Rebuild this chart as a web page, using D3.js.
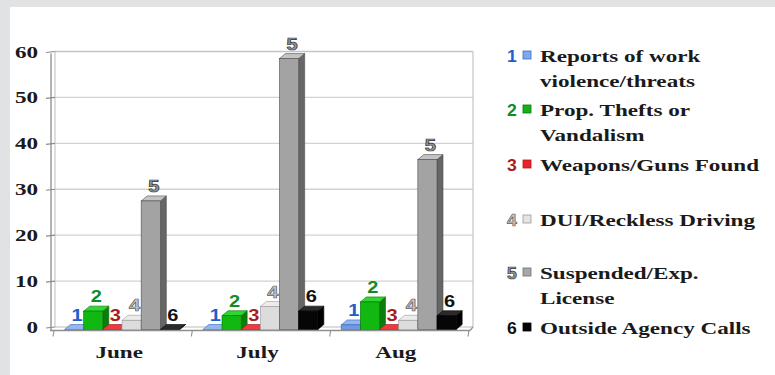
<!DOCTYPE html>
<html><head><meta charset="utf-8">
<script src="https://cdn.jsdelivr.net/npm/d3@7"></script>
<style>html,body{margin:0;padding:0;background:#fff;}svg{display:block;}</style>
</head><body>
<svg id="chart" width="775" height="375"></svg>
<script>
// ---- data ----
const months = ["June", "July", "Aug"];
const seriesKeys = ["1", "2", "3", "4", "5", "6"];
const seriesNames = [
  ["Reports of work", "violence/threats"],
  ["Prop. Thefts or", "Vandalism"],
  ["Weapons/Guns Found"],
  ["DUI/Reckless Driving"],
  ["Suspended/Exp.", "License"],
  ["Outside Agency Calls"]
];
const workViolence = [0, 0, 1];
const thefts = [4, 3, 6];
const weapons = [0, 0, 0];
const dui = [2, 5, 2];
const suspended = [28, 59, 37];
const outsideCalls = [0, 4, 3];
const yTicks = [0, 10, 20, 30, 40, 50, 60];

const seriesValues = [workViolence, thefts, weapons, dui, suspended, outsideCalls];

// ---- styles ----
const fills = [
  {front:"#6f9be6", top:"#93b6f0", side:"#3f6cc0", stroke:"#3a64b0", label:"#1b5fc9", lstroke:"none", sq:"#7ea7ec", sqs:"#3f6cc0"},
  {front:"#12b812", top:"#2fd82f", side:"#0a7d0a", stroke:"#0a6e0a", label:"#138a24", lstroke:"none", sq:"#17b017", sqs:"#0a7a0a"},
  {front:"#d81f27", top:"#ee3a40", side:"#a01010", stroke:"#9a1010", label:"#a81c1c", lstroke:"none", sq:"#e8232f", sqs:"#b01818"},
  {front:"#dcdcdc", top:"#ececec", side:"#b4b4b4", stroke:"#9a9a9a", label:"#c8c8c8", lstroke:"#666", sq:"#e4e4e4", sqs:"#9a9a9a"},
  {front:"#a3a3a3", top:"#c4c4c4", side:"#666666", stroke:"#4e4e4e", label:"#9a9a9a", lstroke:"#333", sq:"#a8a8a8", sqs:"#707070"},
  {front:"#060606", top:"#2a2a2a", side:"#000000", stroke:"#000", label:"#111111", lstroke:"none", sq:"#050505", sqs:"#000"}
];
const SX = 1.36;
const serif = "'Liberation Serif','Times New Roman',serif";
const sans = "'Liberation Sans',Arial,sans-serif";

const svg = d3.select("#chart");

// background frame (gray bands)
svg.append("rect").attr("x",0).attr("y",0).attr("width",775).attr("height",375).attr("fill","#fff");
svg.append("rect").attr("x",0).attr("y",0).attr("width",775).attr("height",7).attr("fill","#e1e2e4");
svg.append("rect").attr("x",0).attr("y",0).attr("width",10).attr("height",375).attr("fill","#e1e2e4");

// ---- scales ----
const y = d3.scaleLinear().domain([0, 60]).range([327, 51.5]);
const x0 = d3.scaleBand().domain(months).range([54, 469]).padding(0);
const x1 = d3.scaleBand().domain(seriesKeys).range([10.5, 125.5]).padding(0);

const wallL = 55, wallR = 473;
const DX = 6, DY = 5, FY = 2.5; // 3D depth offsets

// gridlines
const g = svg.append("g");
g.selectAll("line.grid").data(yTicks).join("line")
  .attr("x1", wallL).attr("x2", wallR)
  .attr("y1", d => y(d)).attr("y2", d => y(d))
  .attr("stroke", d => d === 60 ? "#c4c4c4" : "#d2d2d2").attr("stroke-width", 1.3);
// back wall right edge
g.append("line").attr("x1", wallR).attr("x2", wallR).attr("y1", y(60)).attr("y2", y(0))
  .attr("stroke", "#c8c8c8").attr("stroke-width", 1.3);
// back wall left edge
g.append("line").attr("x1", wallL).attr("x2", wallL).attr("y1", y(60)).attr("y2", y(0))
  .attr("stroke", "#c8c8c8").attr("stroke-width", 1.2);
// left axis
g.append("line").attr("x1", 51).attr("x2", 51).attr("y1", y(60) + 2).attr("y2", y(0) + FY + 1)
  .attr("stroke", "#8a8a8a").attr("stroke-width", 1.3);
g.selectAll("line.tick").data(yTicks).join("line")
  .attr("x1", 46).attr("x2", 55)
  .attr("y1", d => y(d) + 1).attr("y2", d => y(d))
  .attr("stroke", "#8a8a8a").attr("stroke-width", 1.2);
// floor
g.append("line").attr("x1", 50).attr("x2", 470).attr("y1", y(0) + FY + 1).attr("y2", y(0) + FY + 1)
  .attr("stroke", "#8f8f8f").attr("stroke-width", 1.4);
g.append("line").attr("x1", 470).attr("x2", wallR).attr("y1", y(0) + FY + 1).attr("y2", y(0))
  .attr("stroke", "#8f8f8f").attr("stroke-width", 1.2);
const sepX = months.map(m => x0(m)).concat([x0("Aug") + x0.bandwidth()]);
g.selectAll("line.sep").data(sepX).join("line")
  .attr("x1", d => d).attr("x2", d => d - 1)
  .attr("y1", y(0) + FY + 1).attr("y2", y(0) + FY + 7)
  .attr("stroke", "#8f8f8f").attr("stroke-width", 1.1);

// y tick labels
svg.selectAll("text.ytick").data(yTicks).join("text")
  .attr("transform", d => `translate(38,${y(d) + 6}) scale(${SX},1)`)
  .attr("text-anchor", "end")
  .attr("font-family", serif).attr("font-weight", "bold").attr("font-size", 17)
  .attr("fill", "#1a1a1a").text(d => d);

// x labels
svg.selectAll("text.xlab").data(months).join("text")
  .attr("transform", d => `translate(${x0(d) + x0.bandwidth() / 2 - 4},358) scale(${SX},1)`)
  .attr("text-anchor", "middle")
  .attr("font-family", serif).attr("font-weight", "bold").attr("font-size", 17)
  .attr("fill", "#1a1a1a").text(d => d);

// bars
const bw = x1.bandwidth();
months.forEach((m, mi) => {
  const gg = svg.append("g");
  seriesKeys.forEach((k, si) => {
    const v = seriesValues[si][mi];
    const c = fills[si];
    const xl = x0(m) + x1(k);
    const yb = y(0) + FY;
    const yt = y(v) + FY;
    // side face
    gg.append("path")
      .attr("d", `M${xl + bw},${yb} L${xl + bw + DX},${yb - DY} L${xl + bw + DX},${yt - DY} L${xl + bw},${yt} Z`)
      .attr("fill", c.side).attr("stroke", c.stroke).attr("stroke-width", 0.6);
    // top face
    gg.append("path")
      .attr("d", `M${xl},${yt} L${xl + DX},${yt - DY} L${xl + bw + DX},${yt - DY} L${xl + bw},${yt} Z`)
      .attr("fill", c.top).attr("stroke", c.stroke).attr("stroke-width", 0.6);
    // front face
    gg.append("rect")
      .attr("x", xl).attr("y", yt).attr("width", bw).attr("height", Math.max(0, yb - yt))
      .attr("fill", c.front).attr("stroke", c.stroke).attr("stroke-width", 0.6);
  });
  // labels
  seriesKeys.forEach((k, si) => {
    const v = seriesValues[si][mi];
    const c = fills[si];
    const xl = x0(m) + x1(k);
    gg.append("text")
      .attr("transform", `translate(${xl + bw / 2 + 3},${y(v) + FY - DY - 4}) scale(1.25,1)`)
      .attr("text-anchor", "middle")
      .attr("font-family", sans).attr("font-weight", "bold").attr("font-size", 16)
      .attr("fill", c.label).attr("stroke", c.lstroke).attr("stroke-width", 0.7)
      .text(k);
  });
});

// legend
const legendBase = [62, 116, 171, 226, 279, 334];
const lineGap = 24;
const lg = svg.append("g");
seriesKeys.forEach((k, si) => {
  const c = fills[si];
  const b = legendBase[si];
  lg.append("text")
    .attr("transform", `translate(507,${b}) scale(1.1,1)`)
    .attr("font-family", sans).attr("font-weight", "bold").attr("font-size", 16)
    .attr("fill", c.label).attr("stroke", c.lstroke).attr("stroke-width", 0.7)
    .text(k);
  lg.append("rect").attr("x", 523).attr("y", b - 11).attr("width", 8).attr("height", 8)
    .attr("fill", c.sq).attr("stroke", c.sqs).attr("stroke-width", 0.8);
  seriesNames[si].forEach((line, li) => {
    lg.append("text")
      .attr("transform", `translate(540,${b + li * lineGap + (li ? 1 : 0)}) scale(${SX},1)`)
      .attr("font-family", serif).attr("font-weight", "bold").attr("font-size", 17)
      .attr("fill", "#1a1a1a").text(line);
  });
});
</script>
</body></html>
